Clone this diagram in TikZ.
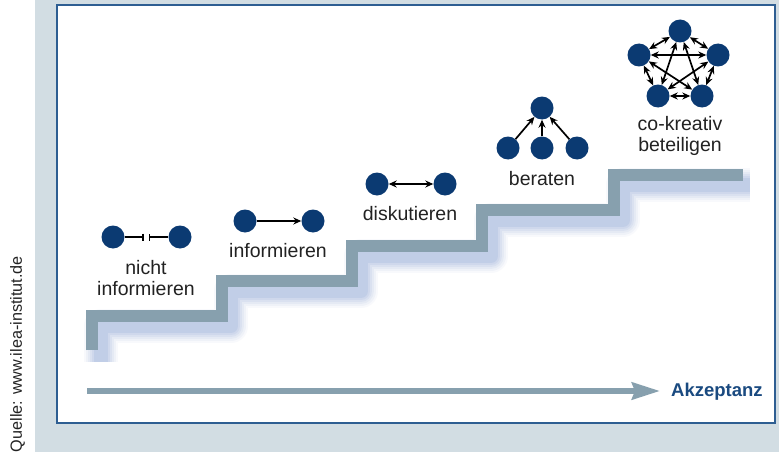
\documentclass[tikz,border=0pt]{standalone}
\usepackage{fontspec}
\setmainfont{Liberation Sans}
\usetikzlibrary{arrows.meta}
\definecolor{bgc}{HTML}{D2DDE3}
\definecolor{framec}{HTML}{2E5E92}
\definecolor{stairc}{HTML}{87A0AE}
\definecolor{shadc}{HTML}{4F78BE}
\definecolor{dotc}{HTML}{0B3A72}
\definecolor{akzc}{HTML}{1A4A80}
\definecolor{txtc}{HTML}{222222}
\tikzset{
  dot/.style={circle,fill=dotc,minimum size=23pt,inner sep=0pt},
  lbl/.style={font=\fontsize{19.5}{21}\selectfont,text=txtc,align=center,inner sep=0pt},
  link/.style={line width=1.7pt,black},
  tipa/.style={-{Stealth[length=8pt,width=7pt]}},
  tipb/.style={{Stealth[length=8pt,width=7pt]}-{Stealth[length=8pt,width=7pt]}},
  stairline/.style={line width=12pt,stairc},
}
\begin{document}
\begin{tikzpicture}[x=1pt,y=-1pt]
\useasboundingbox (0,0) rectangle (779,452);
\fill[bgc] (35,0) rectangle (779,452);
\fill[white] (57,5) rectangle (775,423);
\draw[framec,line width=1.8pt] (57,5) rectangle (775,423);
% source text
\node[rotate=90,anchor=east,font=\fontsize{16.2}{18}\selectfont,text=txtc,inner sep=0pt] (src) at (17.5,256) {Quelle: www.ilea-institut.de};
% stair shadow
\foreach \w/\o in {34/0.04,30/0.05,26/0.06,22/0.07,18/0.08,14/0.10}{
  \draw[shadc,opacity=\o,line width=\w pt,line join=round]
    (101,362) -- (101,326) -- (231,326) -- (231,291) -- (361,291) -- (361,256)
    -- (491,256) -- (491,220) -- (623,220) -- (623,185) -- (750,185);
}
% stairs
\draw[stairline] (92,350) -- (92,316) -- (222,316) -- (222,281) -- (352,281) -- (352,246)
  -- (482,246) -- (482,210) -- (614,210) -- (614,175) -- (743,175);
% nicht informieren
\node[dot] (n1) at (113,237) {};
\node[dot] (n2) at (180,237) {};
\coordinate (nm) at (146,237);
\draw[link,-{Bar[width=7pt]}] (n1) -- ([xshift=-2.5pt]nm);
\draw[link,{Bar[width=7pt]}-] ([xshift=2.5pt]nm) -- (n2);
\node[lbl] (t1) at (146,278) {nicht\\informieren};
% informieren
\node[dot] (i1) at (245,221) {};
\node[dot] (i2) at (313,221) {};
\draw[link,tipa] (i1) -- (i2);
\node[lbl] (t2) at (278,251) {informieren};
% diskutieren
\node[dot] (d1) at (377,184) {};
\node[dot] (d2) at (445,184) {};
\draw[link,tipb] (d1) -- (d2);
\node[lbl] (t3) at (410,214) {diskutieren};
% beraten
\node[dot] (b0) at (542,108) {};
\node[dot] (b1) at (508,148) {};
\node[dot] (b2) at (542,148) {};
\node[dot] (b3) at (577,148) {};
\draw[link,tipa] (b1) -- (b0);
\draw[link,tipa] (b2) -- (b0);
\draw[link,tipa] (b3) -- (b0);
\node[lbl] (t4) at (542,179) {beraten};
% co-kreativ
\node[dot] (c1) at (680,31) {};
\node[dot] (c2) at (718,55) {};
\node[dot] (c3) at (702,96) {};
\node[dot] (c4) at (658,96) {};
\node[dot] (c5) at (639,55) {};
\foreach \a/\b in {c1/c2,c2/c3,c3/c4,c4/c5,c5/c1,c1/c3,c1/c4,c2/c4,c2/c5,c3/c5}{
  \draw[link,tipb] (\a) -- (\b);
}
\node[lbl] (t5) at (680,136) {co-kreativ\\beteiligen};
% Akzeptanz
\node[anchor=west,font=\bfseries\fontsize{18.5}{20}\selectfont,text=akzc,inner sep=0pt] (akz) at (671,392) {Akzeptanz};
\coordinate (as) at (87,391);
\draw[stairc,line width=5.5pt,-{Stealth[length=28pt,width=17pt,inset=3pt]}] (as) -- ([xshift=-11pt]akz.west |- as);
\end{tikzpicture}
\end{document}
